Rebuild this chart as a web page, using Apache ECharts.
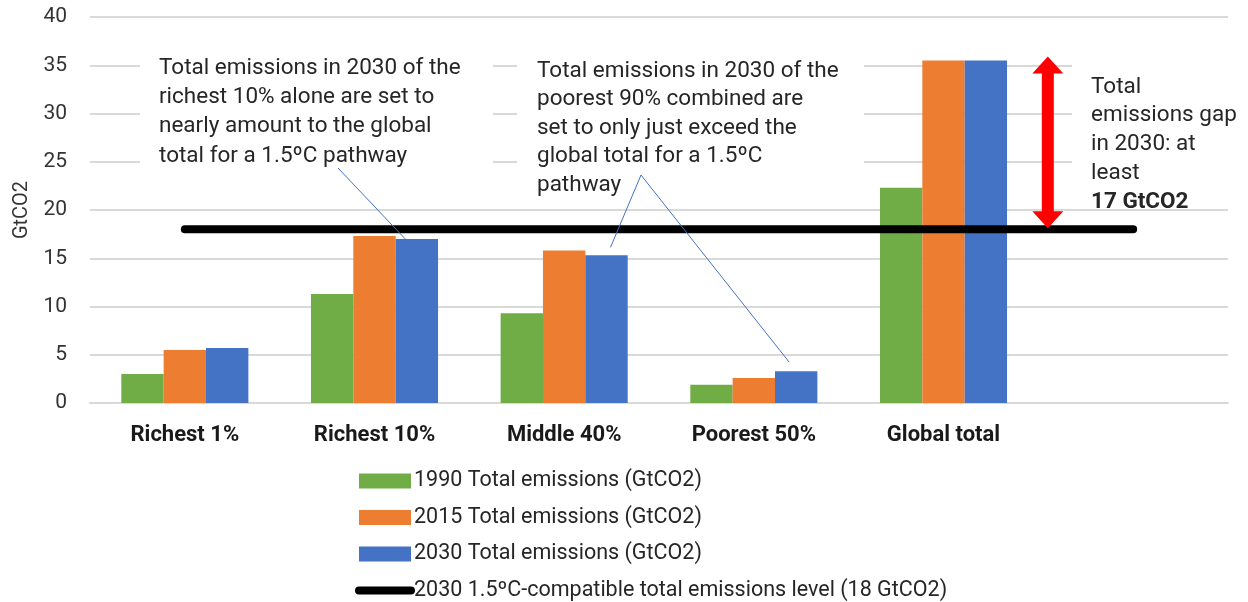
<!DOCTYPE html>
<html><head><meta charset="utf-8">
<script src="https://cdn.jsdelivr.net/npm/echarts@6/dist/echarts.min.js"></script>
<style>html,body{margin:0;padding:0;background:#fff}#c{width:1248px;height:602px}</style>
</head><body><div id="c"></div>
<script>
const categories = ['Richest 1%', 'Richest 10%', 'Middle 40%', 'Poorest 50%', 'Global total', ''];
const s1990 = [3.0, 11.3, 9.3, 1.9, 22.3, null];
const s2015 = [5.5, 17.3, 15.8, 2.6, 35.5, null];
const s2030 = [5.7, 17.0, 15.3, 3.3, 35.5, null];
const target = [18, 18, 18, 18, 18, 18];
const seriesNames = ['1990 Total emissions (GtCO2)', '2015 Total emissions (GtCO2)', '2030 Total emissions (GtCO2)', '2030 1.5ºC-compatible total emissions level (18 GtCO2)'];
const yTicks = {min: 0, max: 40, interval: 5};
const gapRange = [18, 36];

const FONT = 'Roboto';
const chart = echarts.init(document.getElementById('c'));
chart.setOption({
  animation: false,
  textStyle: {fontFamily: FONT},
  grid: {left: 90, right: 20, top: 17, bottom: 199},
  xAxis: {
    type: 'category', data: categories,
    axisTick: {show: false},
    axisLine: {lineStyle: {color: '#d9d9d9', width: 2}},
    axisLabel: {fontSize: 22, fontWeight: 'bold', color: '#1a1a1a', margin: 21, fontFamily: FONT}
  },
  yAxis: {
    type: 'value', min: yTicks.min, max: yTicks.max, interval: yTicks.interval,
    name: 'GtCO2', nameLocation: 'middle', nameGap: 57, nameRotate: 90,
    nameTextStyle: {fontSize: 20, color: '#333', fontFamily: FONT},
    axisLabel: {fontSize: 21, color: '#333', margin: 23, fontFamily: FONT},
    splitLine: {lineStyle: {color: '#d9d9d9', width: 2}}
  },
  legend: {
    orient: 'vertical', left: 355, top: 470, height: 200, padding: 0,
    itemWidth: 52, itemHeight: 15, itemGap: 14.5,
    textStyle: {fontSize: 21.5, color: '#262626', lineHeight: 21, fontFamily: FONT, padding: [0,0,0,-2]},
    data: [
      {name: seriesNames[0], icon: 'rect'}, {name: seriesNames[1], icon: 'rect'}, {name: seriesNames[2], icon: 'rect'},
      {name: seriesNames[3], itemStyle: {opacity: 0}, lineStyle: {width: 8, cap: 'round', color: '#000'}}
    ]
  },
  series: [
    {name: seriesNames[0], type: 'bar', data: s1990, itemStyle: {color: '#70AD47'}, barGap: '0%', barCategoryGap: '33%'},
    {name: seriesNames[1], type: 'bar', data: s2015, itemStyle: {color: '#ED7D31'}},
    {name: seriesNames[2], type: 'bar', data: s2030, itemStyle: {color: '#4472C4'}},
    {name: seriesNames[3], type: 'line', data: target, symbol: 'none', z: 5,
     lineStyle: {color: '#000', width: 8, cap: 'round'}, itemStyle: {color: '#000'}}
  ]
});

function px(cat, val) { return chart.convertToPixel({xAxisIndex: 0, yAxisIndex: 0}, [cat, val]); }
const c0 = px(0, 0), c1 = px(1, 0);
const catW = c1[0] - c0[0];
const bw = catW * 0.67 / 3;

const tFont = '22.5px ' + FONT;
function textBlock(x, y, lines, lh, boldLast) {
  return lines.map((t, i) => ({
    type: 'text', x: x, y: y + i * lh, z: 20,
    style: {text: t, font: (boldLast && i === lines.length - 1 ? 'bold ' : '') + tFont, fill: '#262626', verticalAlign: 'middle', align: 'left'}
  }));
}

const arrowX = px(4, 0)[0] + catW * 0.55;
const yTop = px(0, gapRange[1])[1] + 1;
const yBot = px(0, gapRange[0])[1] - 1;
const headH = 17, headW = 31, shaftW = 12;

const e1 = px(1, s2030[1]), e2 = px(2, s2030[2]), e3 = px(3, s2030[3]);
const blueOff = bw;

const g = [
  {type: 'rect', shape: {x: 140, y: 48, width: 353, height: 126}, style: {fill: '#fff'}, z: 10},
  {type: 'rect', shape: {x: 517, y: 48, width: 347, height: 152}, style: {fill: '#fff'}, z: 10},
  {type: 'rect', shape: {x: 1072, y: 48, width: 176, height: 152}, style: {fill: '#fff'}, z: 10},
  ...textBlock(159, 68, ['Total emissions in 2030 of the', 'richest 10% alone are set to', 'nearly amount to the global', 'total for a 1.5ºC pathway'], 29.4),
  ...textBlock(537, 71, ['Total emissions in 2030 of the', 'poorest 90% combined are', 'set to only just exceed the', 'global total for a 1.5ºC', 'pathway'], 28.5),
  ...textBlock(1091, 87, ['Total', 'emissions gap', 'in 2030: at', 'least', '17 GtCO2'], 28.8, true),
  {type: 'line', z: 21, shape: {x1: 338, y1: 168, x2: e1[0] + blueOff - 5, y2: e1[1] + 7}, style: {stroke: '#4472C4', lineWidth: 1}},
  {type: 'polyline', z: 21, shape: {points: [[e2[0] + blueOff + 4, e2[1] - 8], [641, 175], [e3[0] + blueOff - 7, e3[1] - 9]]}, style: {stroke: '#4472C4', lineWidth: 1, fill: null}},
  {type: 'polygon', z: 22, shape: {points: [
    [arrowX, yTop], [arrowX + headW / 2, yTop + headH], [arrowX + shaftW / 2, yTop + headH],
    [arrowX + shaftW / 2, yBot - headH], [arrowX + headW / 2, yBot - headH], [arrowX, yBot],
    [arrowX - headW / 2, yBot - headH], [arrowX - shaftW / 2, yBot - headH],
    [arrowX - shaftW / 2, yTop + headH], [arrowX - headW / 2, yTop + headH]
  ]}, style: {fill: '#FF0000'}}
];
chart.setOption({graphic: g});
</script></body></html>
